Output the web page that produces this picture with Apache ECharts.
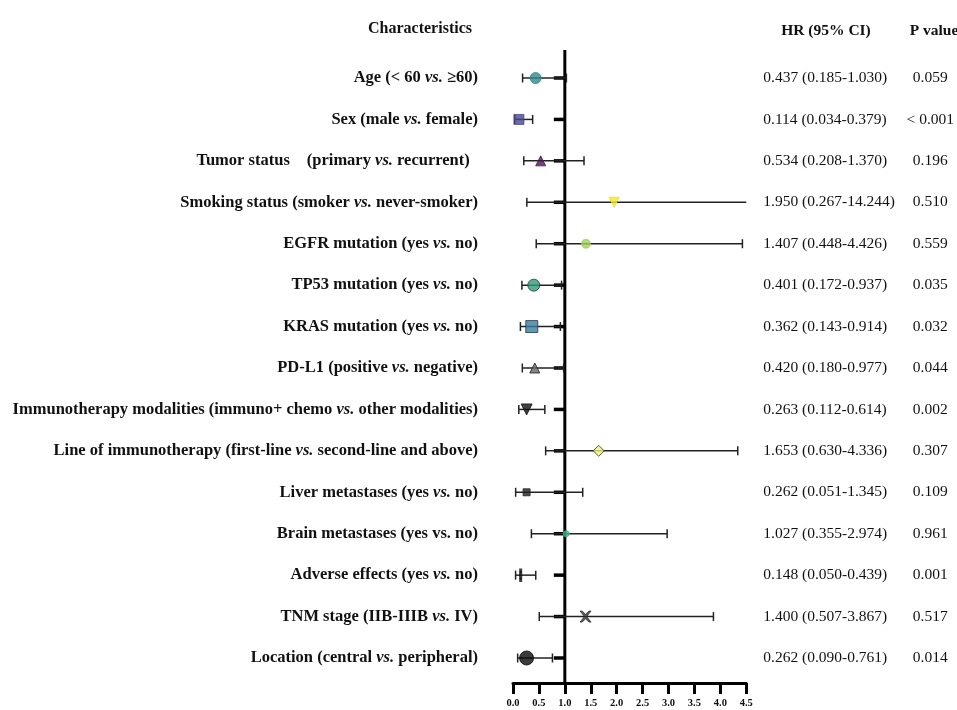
<!DOCTYPE html>
<html>
<head>
<meta charset="utf-8">
<script src="https://cdn.jsdelivr.net/npm/echarts@6/dist/echarts.min.js"></script>
<style>
html,body{margin:0;padding:0;background:#fff;}
#main{width:957px;height:710px;}
</style>
</head>
<body>
<div id="main"></div>
<script>
// ---- data ----
var categories = [
  ['Age (< 60 ', 'vs.', ' ≥60)'],
  ['Sex (male ', 'vs.', ' female)'],
  ['Tumor status\u3000(primary ', 'vs.', ' recurrent)\u2002'],
  ['Smoking status (smoker ', 'vs.', ' never-smoker)'],
  ['EGFR mutation (yes ', 'vs.', ' no)'],
  ['TP53 mutation (yes ', 'vs.', ' no)'],
  ['KRAS mutation (yes ', 'vs.', ' no)'],
  ['PD-L1 (positive ', 'vs.', ' negative)'],
  ['Immunotherapy modalities (immuno+ chemo ', 'vs.', ' other modalities)'],
  ['Line of immunotherapy (first-line ', 'vs.', ' second-line and above)'],
  ['Liver metastases (yes ', 'vs.', ' no)'],
  ['Brain metastases (yes vs. no)', '', ''],
  ['Adverse effects (yes ', 'vs.', ' no)'],
  ['TNM stage (IIB-IIIB ', 'vs.', ' IV)'],
  ['Location (central ', 'vs.', ' peripheral)']
];
var hr     = [0.437, 0.114, 0.534, 1.950, 1.407, 0.401, 0.362, 0.420, 0.263, 1.653, 0.262, 1.027, 0.148, 1.400, 0.262];
var ciLow  = [0.185, 0.034, 0.208, 0.267, 0.448, 0.172, 0.143, 0.180, 0.112, 0.630, 0.051, 0.355, 0.050, 0.507, 0.090];
var ciHigh = [1.030, 0.379, 1.370, 14.244, 4.426, 0.937, 0.914, 0.977, 0.614, 4.336, 1.345, 2.974, 0.439, 3.867, 0.761];
var hrText = ['0.437 (0.185-1.030)', '0.114 (0.034-0.379)', '0.534 (0.208-1.370)', '1.950 (0.267-14.244)',
  '1.407 (0.448-4.426)', '0.401 (0.172-0.937)', '0.362 (0.143-0.914)', '0.420 (0.180-0.977)',
  '0.263 (0.112-0.614)', '1.653 (0.630-4.336)', '0.262 (0.051-1.345)', '1.027 (0.355-2.974)',
  '0.148 (0.050-0.439)', '1.400 (0.507-3.867)', '0.262 (0.090-0.761)'];
var pText = ['0.059', '< 0.001', '0.196', '0.510', '0.559', '0.035', '0.032', '0.044', '0.002', '0.307',
  '0.109', '0.961', '0.001', '0.517', '0.014'];
var xTicks = ['0.0', '0.5', '1.0', '1.5', '2.0', '2.5', '3.0', '3.5', '4.0', '4.5'];
var refValue = 1;

// ---- marker styles (presentation only) ----
var markerStyles = [
  {symbol: 'circle', size: 11, color: '#2f8a8f', border: '#2f8a8f'},
  {symbol: 'rect', size: 10, color: '#4b4691', border: '#4b4691'},
  {symbol: 'triangle', size: 10, color: '#48194f', border: '#48194f'},
  {symbol: 'path://M0,0 L10,0 L5,9 Z', size: 10, color: '#f3ea2c', border: '#e8df20'},
  {symbol: 'circle', size: 9, color: '#a3d05c', border: '#a3d05c'},
  {symbol: 'circle', size: 12, color: '#2f9a78', border: '#1c3f37'},
  {symbol: 'rect', size: 12, color: '#3a7d9c', border: '#1f3a48'},
  {symbol: 'triangle', size: 10, color: '#666666', border: '#222222'},
  {symbol: 'path://M0,0 L10,0 L5,9 Z', size: 11, color: '#111111', border: '#111111'},
  {symbol: 'diamond', size: 11, color: '#eef07a', border: '#333333'},
  {symbol: 'rect', size: 7, color: '#222222', border: '#222222'},
  {symbol: 'circle', size: 6, color: '#3cb58a', border: '#3cb58a'},
  {symbol: 'rect', size: [2, 9], color: '#111111', border: '#111111'},
  {symbol: 'path://M0,0 L2,0 L5,3 L8,0 L10,0 L6,5 L10,10 L8,10 L5,7 L2,10 L0,10 L4,5 Z', size: 11, color: '#333333', border: '#333333'},
  {symbol: 'circle', size: 14, color: '#0a0a0a', border: '#0a0a0a'}
];

var FONT = 'Liberation Serif';
var LABEL_SIZE = 16.5;
var VALUE_SIZE = 15.5;
var catNames = categories.map(function (c) { return c.join(''); });

var richLabel = {
  b: {fontFamily: FONT, fontWeight: 'bold', fontSize: LABEL_SIZE, color: '#111'},
  i: {fontFamily: FONT, fontWeight: 'bold', fontStyle: 'italic', fontSize: LABEL_SIZE, color: '#111'}
};

var scatterData = hr.map(function (v, i) {
  var s = markerStyles[i];
  return {
    value: [v, i],
    symbol: s.symbol,
    symbolSize: s.size,
    itemStyle: {color: s.color, borderColor: s.border, borderWidth: 1}
  };
});
var ciData = hr.map(function (v, i) { return [ciLow[i], ciHigh[i], i]; });
var tickData = hr.map(function (v, i) { return [refValue, i]; });

var chart = echarts.init(document.getElementById('main'), null, {renderer: 'canvas'});
chart.setOption({
  backgroundColor: '#fff',
  animation: false,
  title: [
    {text: 'Characteristics', left: 415, top: 16, textAlign: 'center',
      textStyle: {fontFamily: FONT, fontWeight: 'bold', fontSize: 16, color: '#111'}},
    {text: 'HR (95% CI)', left: 821, top: 18, textAlign: 'center',
      textStyle: {fontFamily: FONT, fontWeight: 'bold', fontSize: 15.5, color: '#111'}},
    {text: 'P value', left: 929, top: 18, textAlign: 'center',
      textStyle: {fontFamily: FONT, fontWeight: 'bold', fontSize: 15.5, color: '#111'}}
  ],
  grid: {left: 513, right: 210, top: 78, bottom: 52, containLabel: false},
  xAxis: {
    type: 'value', min: 0, max: 4.5, interval: 0.5, offset: 25,
    axisLine: {show: true, lineStyle: {color: '#000', width: 3}},
    axisTick: {show: true, length: 11, lineStyle: {color: '#000', width: 3}},
    axisLabel: {
      margin: 15, fontFamily: FONT, fontWeight: 'bold', fontSize: 10.5, color: '#111',
      formatter: function (v) { return xTicks[Math.round(v / 0.5)]; }
    },
    splitLine: {show: false}
  },
  yAxis: [
    {
      type: 'category', data: catNames, inverse: true, boundaryGap: false, position: 'left',
      axisLine: {show: false}, axisTick: {show: false}, splitLine: {show: false},
      axisLabel: {
        margin: 35, align: 'right',
        formatter: function (val, idx) {
          var c = categories[idx];
          var s = '{b|' + c[0] + '}';
          if (c[1]) s += '{i|' + c[1] + '}';
          if (c[2]) s += '{b|' + c[2] + '}';
          return s;
        },
        rich: richLabel
      }
    },
    {
      type: 'category', data: catNames, inverse: true, boundaryGap: false, position: 'right',
      axisLine: {show: false}, axisTick: {show: false}, splitLine: {show: false},
      axisLabel: {
        margin: 17, align: 'left', fontFamily: FONT, fontSize: VALUE_SIZE, color: '#111',
        formatter: function (val, idx) { return hrText[idx]; }
      }
    },
    {
      type: 'category', data: catNames, inverse: true, boundaryGap: false, position: 'right',
      axisLine: {show: false}, axisTick: {show: false}, splitLine: {show: false},
      axisLabel: {
        margin: 184, align: 'center', fontFamily: FONT, fontSize: VALUE_SIZE, color: '#111',
        formatter: function (val, idx) { return pText[idx]; }
      }
    }
  ],
  series: [
    {
      // vertical reference line at HR = 1 and its row ticks
      type: 'custom', name: 'ref', clip: false, z: 2,
      data: tickData,
      encode: {x: 0, y: 1},
      renderItem: function (params, api) {
        var p = api.coord([api.value(0), api.value(1)]);
        var cs = params.coordSys;
        var children = [{
          type: 'line',
          shape: {x1: p[0] - 11, y1: p[1], x2: p[0], y2: p[1]},
          style: {stroke: '#000', lineWidth: 3.5}
        }];
        if (params.dataIndex === 0) {
          children.push({
            type: 'line',
            shape: {x1: p[0], y1: cs.y - 28, x2: p[0], y2: cs.y + cs.height + 25},
            style: {stroke: '#000', lineWidth: 3}
          });
        }
        return {type: 'group', children: children};
      }
    },
    {
      type: 'custom', name: 'CI', clip: false, z: 3,
      data: ciData,
      encode: {x: [0, 1], y: 2},
      renderItem: function (params, api) {
        var row = api.value(2);
        var a = api.coord([api.value(0), row]);
        var b = api.coord([api.value(1), row]);
        var cs = params.coordSys;
        var xmax = cs.x + cs.width;
        var x2 = Math.min(b[0], xmax);
        var cap = 4.5;
        var st = {stroke: '#222', lineWidth: 1.5};
        var children = [
          {type: 'line', shape: {x1: a[0], y1: a[1], x2: x2, y2: a[1]}, style: st},
          {type: 'line', shape: {x1: a[0], y1: a[1] - cap, x2: a[0], y2: a[1] + cap}, style: st}
        ];
        if (b[0] <= xmax + 0.5) {
          children.push({type: 'line', shape: {x1: b[0], y1: b[1] - cap, x2: b[0], y2: b[1] + cap}, style: st});
        }
        return {type: 'group', children: children};
      }
    },
    {
      type: 'scatter', name: 'HR', z: 5,
      data: scatterData
    }
  ]
});
</script>
</body>
</html>
